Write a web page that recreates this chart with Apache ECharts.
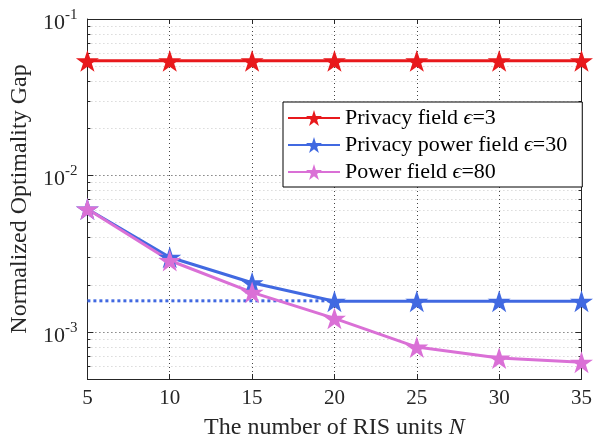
<!DOCTYPE html>
<html>
<head>
<meta charset="utf-8">
<script src="https://cdn.jsdelivr.net/npm/echarts@6/dist/echarts.min.js"></script>
<style>
  html, body { margin: 0; padding: 0; background: #fff; }
  #chart { width: 595px; height: 445px; }
</style>
</head>
<body>
<div id="chart"></div>
<script>
// number of RIS units
const units = [5, 10, 15, 20, 25, 30, 35]
// normalized optimality gap
const privacyField = [0.054, 0.054, 0.054, 0.054, 0.054, 0.054, 0.054]
const privacyPowerField = [0.0061, 0.0030, 0.00206, 0.00157, 0.00157, 0.00157, 0.00157]
const powerField = [0.0061, 0.00286, 0.00179, 0.00122, 0.00080, 0.00068, 0.00064]
// dotted reference level
const refUnits = [5, 20]
const refLevel = [0.00158, 0.00158]

const yMin = 5e-4, yMax = 0.1
const majorExp = [-3, -2, -1]
const minorVals = []
;[-4, -3, -2].forEach(e => {
  for (let k = 2; k <= 9; k++) {
    let v = k * Math.pow(10, e)
    if (v >= yMin && v <= yMax) minorVals.push(Math.log10(v))
  }
})

const font = 'Liberation Serif'
const star = 'path://M50 0 L61.23 34.55 L97.55 34.55 L68.17 55.9 L79.39 90.45 L50 69.1 L20.61 90.45 L31.83 55.9 L2.45 34.55 L38.77 34.55 Z'

function pts (xs, ys) {
  return xs.map((x, i) => [x, Math.log10(ys[i])])
}

function lineSeries (name, color, xs, ys) {
  return {
    name: name,
    type: 'line',
    data: pts(xs, ys),
    symbol: star,
    symbolKeepAspect: true,
    symbolSize: 23,
    lineStyle: { color: color, width: 3 },
    itemStyle: { color: color },
    animation: false
  }
}

const boxColor = '#262626'

const chart = echarts.init(document.getElementById('chart'))
chart.setOption({
  animation: false,
  grid: { left: 86, right: 10, top: 19, bottom: 64 },
  legend: {
    data: ['Privacy field ϵ=3', 'Privacy power field ϵ=30', 'Power field ϵ=80'],
    orient: 'vertical',
    left: 283,
    top: 102,
    itemWidth: 52,
    itemHeight: 20,
    itemGap: 5,
    padding: [5, 15, 4, 4],
    borderColor: '#000',
    borderWidth: 1,
    borderRadius: 0,
    backgroundColor: '#fff',
    formatter: n => n.replace('ϵ', '{i|ϵ}'),
    textStyle: {
      fontFamily: font, fontSize: 22, color: '#000',
      rich: { i: { fontFamily: font, fontStyle: 'italic', fontSize: 22, color: '#000' } }
    }
  },
  xAxis: [
    {
      type: 'value', min: 5, max: 35, interval: 5,
      name: 'The number of RIS units {i|N}',
      nameLocation: 'middle', nameGap: 37,
      nameTextStyle: {
        fontFamily: font, fontSize: 24, color: '#262626',
        rich: { i: { fontFamily: font, fontSize: 24, fontStyle: 'italic', color: '#262626' } }
      },
      axisLine: { lineStyle: { color: boxColor } },
      axisTick: { inside: true, length: 5, lineStyle: { color: boxColor } },
      axisLabel: { fontFamily: font, fontSize: 21, color: '#262626', margin: 9 },
      splitLine: { show: true, lineStyle: { color: '#444', type: [1, 3] } }
    },
    {
      type: 'value', min: 5, max: 35, interval: 5, position: 'top',
      axisLine: { lineStyle: { color: boxColor } },
      axisTick: { inside: true, length: 5, lineStyle: { color: boxColor } },
      axisLabel: { show: false },
      splitLine: { show: false }
    }
  ],
  yAxis: [
    {
      type: 'value', min: Math.log10(yMin), max: Math.log10(yMax), position: 'left',
      name: 'Normalized Optimality Gap',
      nameLocation: 'middle', nameGap: 51,
      nameTextStyle: { fontFamily: font, fontSize: 24, color: '#262626' },
      axisLine: { show: true, lineStyle: { color: boxColor } },
      axisTick: { show: true, inside: true, length: 6, customValues: majorExp, lineStyle: { color: boxColor } },
      axisLabel: {
        customValues: majorExp,
        margin: 10,
        formatter: v => '{b|10}{s|' + Math.round(v) + '}',
        rich: {
          b: { fontFamily: font, fontSize: 22, color: '#262626', padding: [8, 0, 0, 0] },
          s: { fontFamily: font, fontSize: 15, color: '#262626', padding: [0, 0, 8, 0] }
        }
      },
      splitLine: { show: true, lineStyle: { color: '#444', type: [1, 3] } }
    },
    {
      type: 'value', min: Math.log10(yMin), max: Math.log10(yMax), position: 'left',
      axisLine: { show: false },
      axisTick: { show: true, inside: true, length: 3, customValues: minorVals, lineStyle: { color: boxColor } },
      axisLabel: { show: false },
      splitLine: { show: true, lineStyle: { color: '#c8c8c8', type: [1, 3] } }
    },
    {
      type: 'value', min: Math.log10(yMin), max: Math.log10(yMax), position: 'right',
      axisLine: { show: true, lineStyle: { color: boxColor } },
      axisTick: { show: true, inside: true, length: 6, customValues: majorExp, lineStyle: { color: boxColor } },
      axisLabel: { show: false },
      splitLine: { show: false }
    },
    {
      type: 'value', min: Math.log10(yMin), max: Math.log10(yMax), position: 'right',
      axisLine: { show: false },
      axisTick: { show: true, inside: true, length: 3, customValues: minorVals, lineStyle: { color: boxColor } },
      axisLabel: { show: false },
      splitLine: { show: false }
    }
  ],
  series: [
    lineSeries('Privacy field ϵ=3', '#e8191c', units, privacyField),
    {
      name: 'ref',
      type: 'line',
      data: pts(refUnits, refLevel),
      symbol: 'none',
      lineStyle: { color: '#4169e1', width: 3, type: [3, 3] },
      animation: false
    },
    lineSeries('Privacy power field ϵ=30', '#4169e1', units, privacyPowerField),
    lineSeries('Power field ϵ=80', '#da70d6', units, powerField)
  ]
})
</script>
</body>
</html>
